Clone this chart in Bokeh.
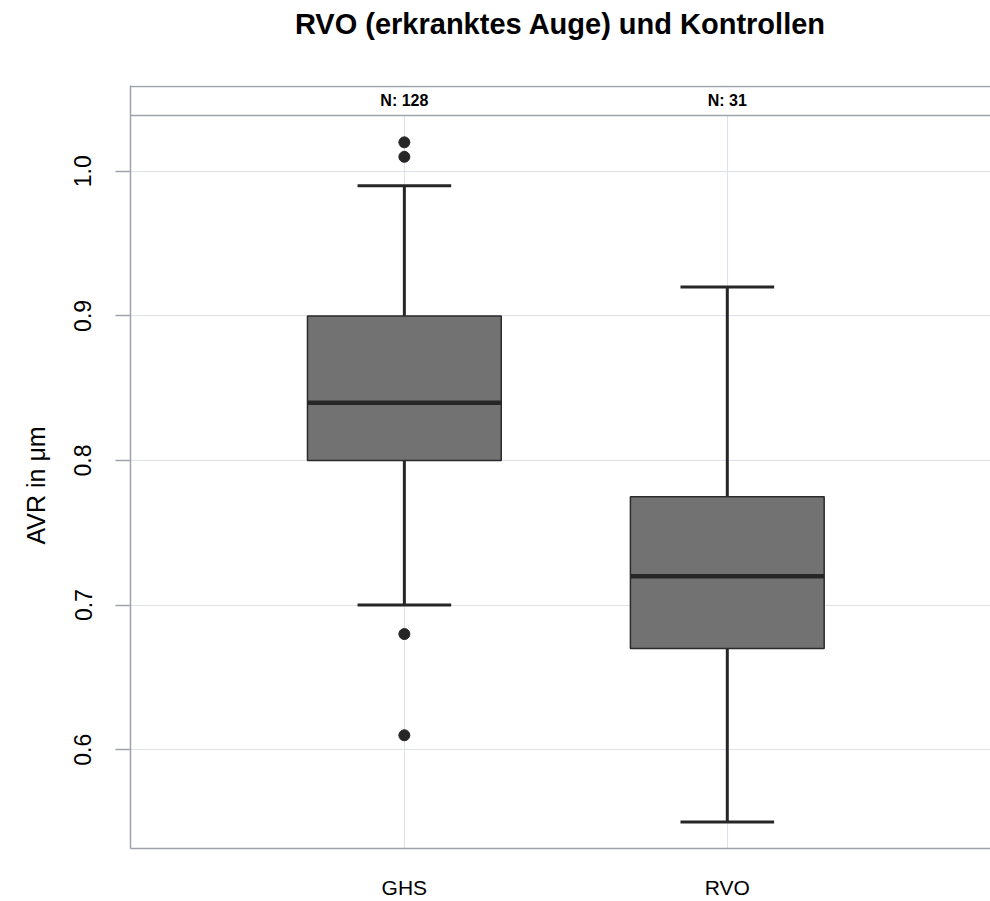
import numpy as np
from bokeh.plotting import figure
from bokeh.models import Range1d, FixedTicker, ColumnDataSource, PrintfTickFormatter, Title
from bokeh.core.properties import value
from bokeh.embed import file_html
from bokeh.resources import INLINE

# ---- data ----
groups = ["GHS", "RVO"]
n_obs = [128, 31]
q1 = [0.80, 0.67]
median = [0.84, 0.72]
q3 = [0.90, 0.775]
lower_whisker = [0.70, 0.55]
upper_whisker = [0.99, 0.92]
outlier_group = ["GHS", "GHS", "GHS", "GHS"]
outlier_value = [1.02, 1.01, 0.68, 0.61]
y_ticks = [0.6, 0.7, 0.8, 0.9, 1.0]

xpos = [i + 1 for i in range(len(groups))]
out_x = [groups.index(g) + 1 for g in outlier_group]

box_half = 0.30
cap_half = 0.145

x_start, x_end = 0.152, 2.815
y_start, y_end = 0.5317, 1.0593
strip_bottom = 1.0386

FONT = "Liberation Sans"
DARK = "#262626"
AXIS = "#9fa2aa"

p = figure(width=990, height=901, output_backend="svg", toolbar_location=None,
           x_range=Range1d(x_start, x_end), y_range=Range1d(y_start, y_end),
           min_border_left=130, min_border_right=0, min_border_top=85,
           min_border_bottom=51)
p.outline_line_color = None
p.background_fill_color = "white"
p.border_fill_color = "white"

# spacer between frame and title, then the title itself
p.add_layout(Title(text=" ", text_font_size="2px", standoff=38), "above")
p.add_layout(Title(text="RVO (erkranktes Auge) und Kontrollen", align="center",
                   text_font=FONT, text_font_style="bold", text_font_size="29px",
                   text_color="black", standoff=8), "above")

# grid
p.xgrid.ticker = FixedTicker(ticks=xpos)
p.ygrid.ticker = FixedTicker(ticks=y_ticks)
p.xgrid.grid_line_color = "#dfe1ea"
p.ygrid.grid_line_color = "#dfe1ea"
p.grid.grid_line_width = 1

# axes
p.xaxis.ticker = FixedTicker(ticks=xpos)
p.xaxis.major_label_overrides = {x: g for x, g in zip(xpos, groups)}
p.xaxis.major_tick_line_color = None
p.xaxis.major_tick_out = 0
p.xaxis.major_tick_in = 0
p.xaxis.minor_tick_line_color = None
p.xaxis.axis_line_color = AXIS
p.xaxis.axis_line_width = 1.5
p.xaxis.major_label_standoff = 27
p.xaxis.major_label_text_font = FONT
p.xaxis.major_label_text_font_size = "21px"
p.xaxis.major_label_text_color = "black"

p.yaxis.ticker = FixedTicker(ticks=y_ticks)
p.yaxis.formatter = PrintfTickFormatter(format="%.1f")
p.yaxis.major_label_orientation = "vertical"
p.yaxis.major_tick_out = 15
p.yaxis.major_tick_in = 0
p.yaxis.major_tick_line_color = AXIS
p.yaxis.major_tick_line_width = 1.5
p.yaxis.minor_tick_line_color = None
p.yaxis.axis_line_color = AXIS
p.yaxis.axis_line_width = 1.5
p.yaxis.major_label_standoff = 24
p.yaxis.major_label_text_font = FONT
p.yaxis.major_label_text_font_size = "23px"
p.yaxis.major_label_text_color = "black"

# y axis label as a left-side title, shifted to centre on the panel below the strip
p.add_layout(Title(text="AVR in \u03bcm", align="left", offset=304, vertical_align="top",
                   text_font=FONT, text_font_style="normal", text_font_size="25px",
                   text_color="black", standoff=40), "left")

src = ColumnDataSource(dict(
    x=xpos,
    left=[x - box_half for x in xpos], right=[x + box_half for x in xpos],
    cl=[x - cap_half for x in xpos], cr=[x + cap_half for x in xpos],
    q1=q1, q3=q3, med=median, lo=lower_whisker, hi=upper_whisker,
))

# whiskers
p.segment(x0="x", x1="x", y0="q3", y1="hi", source=src, line_color=DARK, line_width=3)
p.segment(x0="x", x1="x", y0="q1", y1="lo", source=src, line_color=DARK, line_width=3)
p.segment(x0="cl", x1="cr", y0="hi", y1="hi", source=src, line_color=DARK, line_width=3)
p.segment(x0="cl", x1="cr", y0="lo", y1="lo", source=src, line_color=DARK, line_width=3)
# boxes
p.quad(left="left", right="right", bottom="q1", top="q3", source=src,
       fill_color="#727272", line_color="#2b2b2b", line_width=1.5)
# medians
p.segment(x0="left", x1="right", y0="med", y1="med", source=src, line_color=DARK, line_width=4.5)
# outliers
p.scatter(x=out_x, y=outlier_value, size=11, fill_color=DARK, line_color=DARK)

# strip with counts
ppu = 765.0 / (y_end - y_start)
strip_top = y_end - 0.9 / ppu
p.quad(left=[x_start - 1], right=[x_end + 1], bottom=[strip_bottom], top=[strip_top],
       fill_color="white", line_color=AXIS, line_width=1.5)
p.text(x=xpos, y=[(strip_bottom + y_end) / 2] * len(xpos),
       text=["N: %d" % n for n in n_obs], text_align="center", text_baseline="middle",
       text_font=value(FONT), text_font_style="bold",
       text_font_size="16px", text_color="black")

open("out.html", "w").write(file_html(p, INLINE))
